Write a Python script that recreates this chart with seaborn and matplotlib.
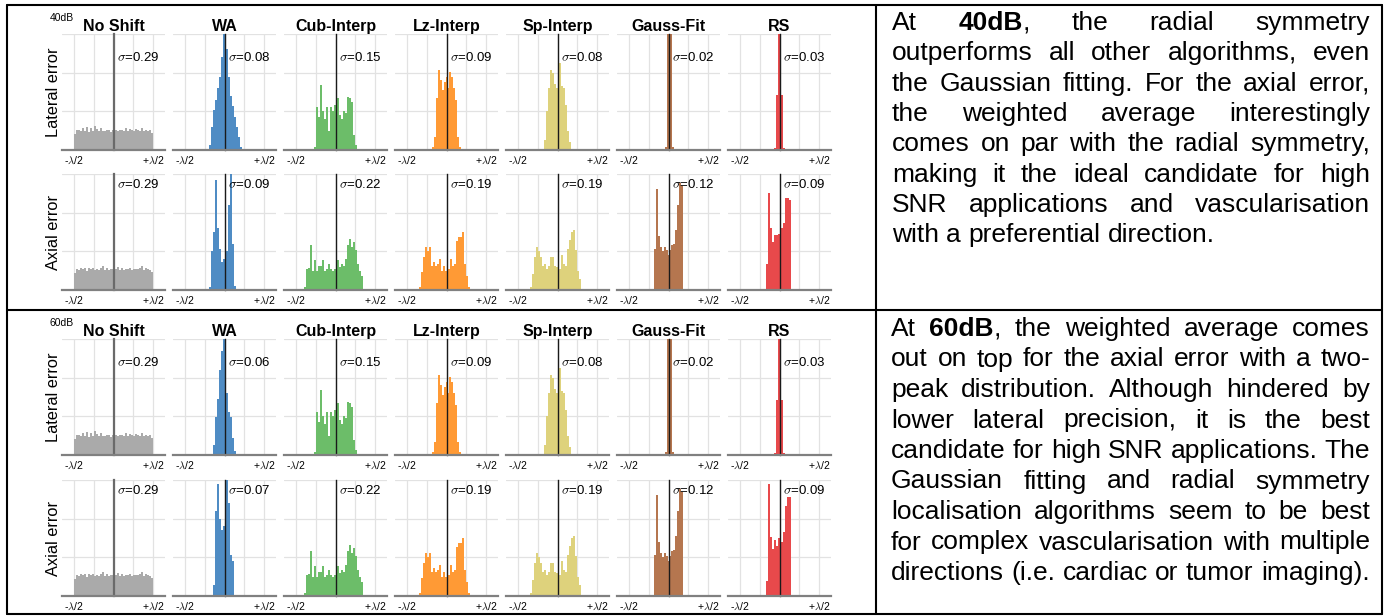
import numpy as np
import pandas as pd
import matplotlib.pyplot as plt
import seaborn as sns
from matplotlib.lines import Line2D

sns.set_style("white")
plt.rcParams['font.family'] = ['Liberation Sans', 'DejaVu Sans']
plt.rcParams['mathtext.fontset'] = 'cm'
plt.rcParams['text.color'] = 'black'
plt.rcParams['xtick.color'] = 'black'

# -----------------------------
# data
# -----------------------------
methods = ["No Shift", "WA", "Cub-Interp", "Lz-Interp", "Sp-Interp", "Gauss-Fit", "RS"]
colors = ["#aaaaaa", "#4f8cc4", "#6cbd69", "#ff9a35", "#ded27c", "#b5764f", "#e8494b"]

BIN = 0.025  # bin width (fraction of wavelength)

# (left edge of first bin, bin heights)
ns_lat = (-0.5, [0.42, 0.52, 0.52, 0.5, 0.58, 0.5, 0.6, 0.47, 0.56, 0.5, 0.63, 0.55, 0.5, 0.58,
                 0.5, 0.49, 0.53, 0.52, 0.47, 0.51, 0.51, 0.52, 0.5, 0.53, 0.52, 0.5, 0.57, 0.48,
                 0.55, 0.52, 0.5, 0.54, 0.53, 0.48, 0.56, 0.5, 0.52, 0.49, 0.52, 0.44])
ns_ax = (-0.5, [0.45, 0.55, 0.53, 0.56, 0.54, 0.56, 0.5, 0.57, 0.55, 0.56, 0.53, 0.55, 0.51, 0.57,
                0.63, 0.53, 0.56, 0.52, 0.55, 0.54, 0.56, 0.55, 0.6, 0.53, 0.56, 0.52, 0.54, 0.55,
                0.58, 0.53, 0.55, 0.55, 0.54, 0.56, 0.62, 0.52, 0.58, 0.55, 0.53, 0.47])
wa_lat40 = (-0.2, [0.13, 0.6, 1.03, 1.29, 1.6, 1.9, 2.4, 3.3, 3.3, 2.6, 1.9, 1.4, 1.15, 0.85, 0.6,
                   0.34, 0.09])
wa_ax40 = (-0.2, [0.09, 1.0, 1.5, 2.85, 1.6, 1.05, 0.72, 0.8, 1.05, 1.0, 2.2, 3.3, 1.2, 0.1])
wa_lat60 = (-0.15, [0.26, 0.99, 1.45, 2.2, 2.7, 3.3, 2.3, 1.6, 1.1, 0.99, 0.45, 0.1])
wa_ax60 = (-0.15, [0.28, 2.2, 2.9, 2.0, 1.7, 1.8, 2.2, 3.3, 2.4, 1.05, 0.9])
cub_lat = (-0.275, [0.09, 1.12, 0.85, 1.68, 1.0, 0.8, 1.1, 0.5, 1.1, 1.0, 1.16, 1.0, 1.34, 0.9,
                    0.8, 1.0, 0.95, 1.38, 1.34, 1.25, 0.4, 0.13])
cub_ax = (-0.4, [0.07, 0.55, 0.58, 1.16, 0.5, 0.77, 0.5, 0.63, 0.63, 0.77, 0.5, 0.55, 0.68, 0.55,
                 0.5, 0.55, 0.5, 0.77, 0.6, 0.68, 0.63, 0.8, 1.16, 1.33, 1.1, 1.24, 1.03, 0.68,
                 0.5, 0.37])
lz_lat = (-0.1875, [0.09, 0.34, 1.34, 2.07, 1.8, 1.55, 1.75, 1.9, 1.6, 2.03, 1.9, 1.6, 1.29, 0.34,
                    0.09])
lz_ax = (-0.35, [0.07, 0.46, 0.85, 1.11, 1.02, 1.11, 0.63, 0.72, 0.63, 0.68, 0.8, 0.5, 0.63, 0.5,
                 0.68, 0.55, 0.8, 0.63, 0.68, 1.28, 1.37, 1.37, 1.5, 0.68, 0.37, 0.07])
sp_lat = (-0.175, [0.26, 1.0, 1.6, 2.07, 2.0, 1.7, 1.6, 1.9, 2.24, 1.65, 1.6, 1.16, 0.5, 0.2])
sp_ax = (-0.35, [0.09, 0.42, 0.85, 1.11, 1.02, 0.85, 0.63, 0.68, 0.55, 0.63, 0.85, 0.85, 0.63,
                 0.59, 0.5, 0.55, 0.9, 0.68, 0.63, 1.07, 1.29, 1.5, 1.55, 1.03, 0.5, 0.29])
gf_lat = (-0.05, [0.09, 3.3, 3.3, 3.3, 0.09])
gf_ax = (-0.1875, [1.07, 2.6, 1.39, 1.11, 1.0, 1.1, 1.03, 0.9, 1.03, 1.16, 1.2, 1.55, 2.2, 2.76,
                   2.7])
rs_lat = (-0.075, [0.05, 1.42, 3.3, 3.3, 1.42, 0.05])
rs_ax40 = (-0.175, [0.68, 2.5, 1.6, 1.24, 1.42, 1.42, 1.45, 1.5, 1.6, 1.72, 2.37, 2.37, 2.33])
rs_ax60 = (-0.175, [0.4, 2.9, 1.53, 1.22, 1.44, 1.3, 1.5, 1.6, 1.4, 1.65, 2.34, 2.56, 2.56])

sigma_lat40 = ["0.29", "0.08", "0.15", "0.09", "0.08", "0.02", "0.03"]
sigma_ax40 = ["0.29", "0.09", "0.22", "0.19", "0.19", "0.12", "0.09"]
sigma_lat60 = ["0.29", "0.06", "0.15", "0.09", "0.08", "0.02", "0.03"]
sigma_ax60 = ["0.29", "0.07", "0.22", "0.19", "0.19", "0.12", "0.09"]

text40 = [
    "At **40dB**, the radial symmetry",
    "outperforms all other algorithms, even",
    "the Gaussian fitting. For the axial error,",
    "the weighted average interestingly",
    "comes on par with the radial symmetry,",
    "making it the ideal candidate for high",
    "SNR applications and vascularisation",
    "with a preferential direction.",
]
text60 = [
    "At **60dB**, the weighted average comes",
    "out on top for the axial error with a two-",
    "peak distribution. Although hindered by",
    "lower lateral precision, it is the best",
    "candidate for high SNR applications. The",
    "Gaussian fitting and radial symmetry",
    "localisation algorithms seem to be best",
    "for complex vascularisation with multiple",
    "directions (i.e. cardiac or tumor imaging).",
]

rows = [
    ("40dB", "Lateral error", [ns_lat, wa_lat40, cub_lat, lz_lat, sp_lat, gf_lat, rs_lat], sigma_lat40),
    (None, "Axial error", [ns_ax, wa_ax40, cub_ax, lz_ax, sp_ax, gf_ax, rs_ax40], sigma_ax40),
    ("60dB", "Lateral error", [ns_lat, wa_lat60, cub_lat, lz_lat, sp_lat, gf_lat, rs_lat], sigma_lat60),
    (None, "Axial error", [ns_ax, wa_ax60, cub_ax, lz_ax, sp_ax, gf_ax, rs_ax60], sigma_ax60),
]

# -----------------------------
# figure
# -----------------------------
W, H = 1386, 616
fig = plt.figure(figsize=(W / 100, H / 100), dpi=100)
fig.patch.set_facecolor("white")


def fx(px):
    return px / W


def fy(py):
    return 1 - py / H


row_tops = [34, 174, 339, 480]
ax_h = 116
ax_w = 103


def draw_panel(ax, hist, color, sigma, axial, grey_axis):
    start, heights = hist
    n = len(heights)
    centers = start + BIN * (np.arange(n) + 0.5)
    df = pd.DataFrame({"err": centers, "h": heights})
    sns.histplot(data=df, x="err", weights="h", bins=n,
                 binrange=(start, start + BIN * n), element="step", fill=True,
                 color=color, alpha=1, linewidth=0, ax=ax)
    ax.set_xlim(-0.644, 0.644)
    ax.set_ylim(0, 3)
    ax.set_xlabel("")
    ax.set_ylabel("")
    ax.set_axisbelow(True)
    ax.grid(True, color="#e2e2e2", lw=0.9)
    ax.set_xticks([-0.5, -0.25, 0, 0.25, 0.5])
    ax.set_xticklabels([r"-$\lambda$/2", "", "", "", r"+$\lambda$/2"], fontsize=7.5)
    ax.set_yticks([0, 1, 2, 3])
    ax.set_yticklabels([])
    ax.tick_params(direction="inout", length=4, width=0.8, color="#333333", pad=1.5)
    for s in ["top", "right"]:
        ax.spines[s].set_visible(False)
    ax.spines["left"].set_position(("data", 0))
    if grey_axis:
        ax.spines["left"].set_color("#6a6a6a")
        ax.spines["left"].set_linewidth(1.6)
    else:
        ax.spines["left"].set_color("#1a1a1a")
        ax.spines["left"].set_linewidth(1.0)
    ax.spines["bottom"].set_color("#808080")
    ax.spines["bottom"].set_linewidth(1.6)
    ax.text(0.04, 2.72 if axial else 2.4, r"$\sigma$=" + sigma, fontsize=9.5,
            ha="left", va="center")


for r, (db, ylab, hists, sigmas) in enumerate(rows):
    top = row_tops[r]
    axial = ylab.startswith("Axial")
    for i, name in enumerate(methods):
        left = 62 + 111 * i
        ax = fig.add_axes([fx(left), fy(top + ax_h), fx(ax_w), ax_h / H])
        draw_panel(ax, hists[i], colors[i], sigmas[i], axial, i == 0)
        if not axial:
            ax.set_title(name, fontsize=11.5, fontweight="bold", pad=2.5)
    fig.text(fx(53), fy(top + ax_h / 2), ylab, rotation=90, fontsize=11.8,
             ha="center", va="center")
    if db:
        fig.text(fx(50), fy(top - 16), db, fontsize=7.5, ha="left", va="center")

# table borders
border = dict(color="black", lw=1.5, transform=fig.transFigure)
x0, x1, y0, y1 = 7, 1382, 4.5, 614
for xs, ys in [([x0, x1], [y0, y0]), ([x0, x1], [y1, y1]), ([x0, x0], [y0, y1]),
               ([x1, x1], [y0, y1]), ([876, 876], [y0, y1]), ([x0, x1], [309.5, 309.5])]:
    fig.add_artist(Line2D([fx(v) for v in xs], [fy(v) for v in ys], **border))

# justified paragraph text
renderer = fig.canvas.get_renderer()


def text_width(t):
    return t.get_window_extent(renderer).width


def justified(lines, xl, xr, y_first, dy, size=19):
    probe = fig.text(0, 0, "x x", fontsize=size)
    probe2 = fig.text(0, 0, "xx", fontsize=size)
    space = text_width(probe) - text_width(probe2)
    probe.remove()
    probe2.remove()
    for k, line in enumerate(lines):
        pieces = []
        for word in line.split(" "):
            segs = [(s, "bold" if j % 2 else "normal")
                    for j, s in enumerate(word.split("**")) if s]
            arts = [fig.text(0, 0, s, fontsize=size, fontweight=wt, va="baseline",
                             color="black")
                    for s, wt in segs]
            pieces.append((arts, [text_width(a) for a in arts]))
        total = sum(sum(ws) for _, ws in pieces)
        if k == len(lines) - 1:
            gap = space
        else:
            gap = (xr - xl - total) / (len(pieces) - 1)
        x = xl
        yb = y_first + k * dy
        for arts, ws in pieces:
            for a, w in zip(arts, ws):
                a.set_position((fx(x), fy(yb)))
                x += w
            x += gap


justified(text40, 892, 1370, 30, 30.3)
justified(text60, 891, 1370, 336, 30.5)

fig.savefig("out.png", dpi=100)
